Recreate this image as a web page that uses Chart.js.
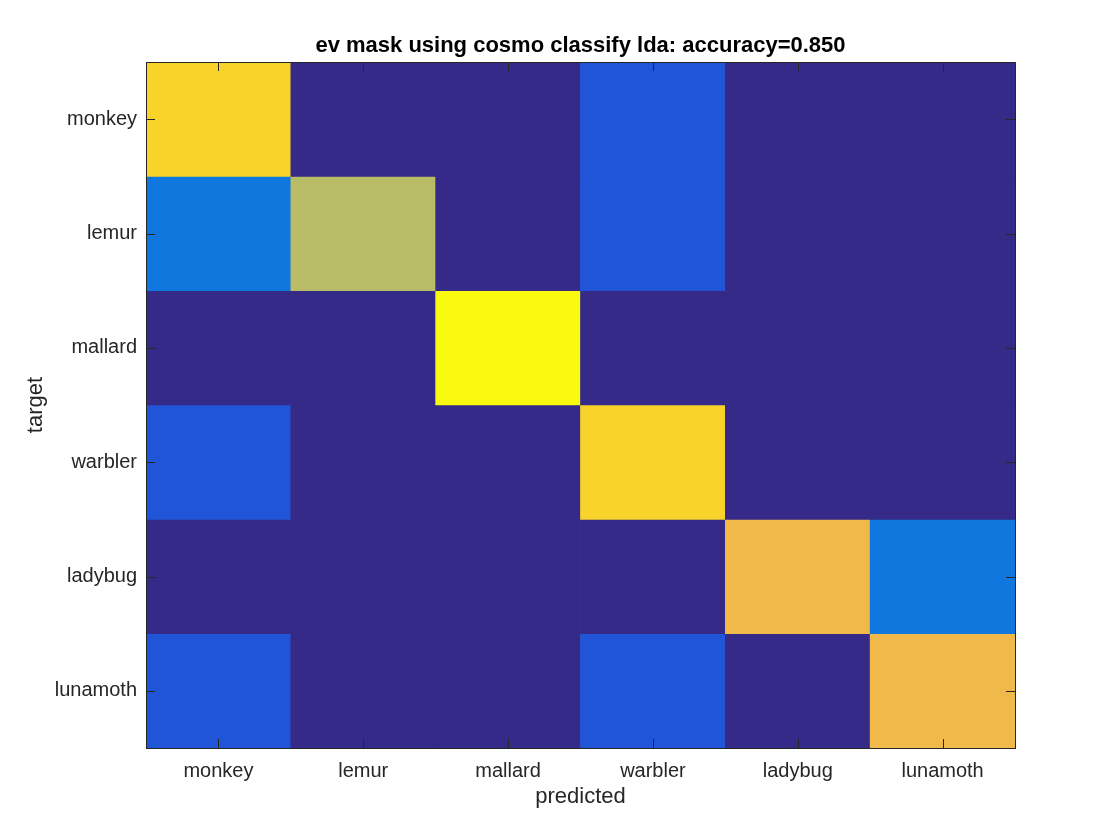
<!DOCTYPE html>
<html>
<head>
<meta charset="utf-8">
<script src="https://cdn.jsdelivr.net/npm/chart.js@4/dist/chart.umd.min.js"></script>
<style>
  html, body { margin: 0; padding: 0; background: #fff; }
  #wrap { width: 1120px; height: 840px; }
</style>
</head>
<body>
<div id="wrap"><canvas id="cm"></canvas></div>
<script>
var predicted = ['monkey', 'lemur', 'mallard', 'warbler', 'ladybug', 'lunamoth'];
var targets = ['monkey', 'lemur', 'mallard', 'warbler', 'ladybug', 'lunamoth'];

// counts per target row, columns in predicted order
var rowMonkey   = [9, 0, 0, 1, 0, 0];
var rowLemur    = [2, 7, 0, 1, 0, 0];
var rowMallard  = [0, 0, 10, 0, 0, 0];
var rowWarbler  = [1, 0, 0, 9, 0, 0];
var rowLadybug  = [0, 0, 0, 0, 8, 2];
var rowLunamoth = [1, 0, 0, 1, 0, 8];
var rows = [rowMonkey, rowLemur, rowMallard, rowWarbler, rowLadybug, rowLunamoth];

var maxCount = 10;
// parula, sampled at count/maxCount = 0, 0.1, ... 1
var parula = ['#352a87', '#1f55d6', '#0f77de', '#1388d3', '#07a6c5', '#38b99e',
              '#92bf73', '#b8bc66', '#f1b94a', '#f8d42a', '#f9fa0f'];

function colorFor(v) {
  return parula[Math.round(v / maxCount * (parula.length - 1))];
}

var datasets = rows.map(function (row, i) {
  return {
    label: targets[i],
    data: row.map(function () { return 1; }),
    counts: row,
    backgroundColor: row.map(colorFor),
    borderWidth: 0,
    barPercentage: 1,
    categoryPercentage: 1
  };
});

var axisColor = '#262626';
var family = '"Liberation Sans", Arial, sans-serif';
var tickFont = { family: family, size: 20 };
var labelFont = { family: family, size: 22 };

var frame = {
  id: 'frame',
  afterDraw: function (chart) {
    var ctx = chart.ctx, a = chart.chartArea;
    var xs = chart.scales.x, ys = chart.scales.y, len = 9;
    ctx.save();
    ctx.strokeStyle = axisColor;
    ctx.lineWidth = 1;
    ctx.beginPath();
    predicted.forEach(function (p, i) {
      var x = Math.round(xs.getPixelForValue(i)) + 0.5;
      ctx.moveTo(x, a.bottom); ctx.lineTo(x, a.bottom - len);
      ctx.moveTo(x, a.top); ctx.lineTo(x, a.top + len);
    });
    targets.forEach(function (t, i) {
      var y = Math.round(ys.getPixelForValue(i + 0.5)) + 0.5;
      ctx.moveTo(a.left, y); ctx.lineTo(a.left + len, y);
      ctx.moveTo(a.right, y); ctx.lineTo(a.right - len, y);
    });
    ctx.stroke();
    ctx.strokeRect(Math.round(a.left) + 0.5, Math.round(a.top) + 0.5,
                   Math.round(a.right - a.left), Math.round(a.bottom - a.top));
    ctx.fillStyle = '#000';
    ctx.font = 'bold 22px ' + family;
    ctx.textAlign = 'center';
    ctx.textBaseline = 'middle';
    ctx.fillText('ev mask using cosmo classify lda: accuracy=0.850', (a.left + a.right) / 2, 46);
    ctx.restore();
  }
};

new Chart(document.getElementById('cm'), {
  type: 'bar',
  data: { labels: predicted, datasets: datasets },
  plugins: [frame],
  options: {
    responsive: true,
    maintainAspectRatio: false,
    animation: false,
    layout: { padding: { left: 0, top: 62, right: 105, bottom: 0 } },
    plugins: {
      legend: { display: false },
      title: { display: false },
      tooltip: {
        callbacks: {
          label: function (c) { return c.dataset.label + ' → ' + c.label + ': ' + c.dataset.counts[c.dataIndex]; }
        }
      }
    },
    scales: {
      x: {
        stacked: true,
        grid: { display: false, drawTicks: false, tickLength: 0 },
        border: { display: false },
        ticks: { color: axisColor, font: tickFont, padding: 11, maxRotation: 0 },
        title: { display: true, text: 'predicted', color: axisColor, font: labelFont,
                 padding: { top: 0, bottom: 30 } },
        afterFit: function (s) { s.height = 92; }
      },
      y: {
        stacked: true,
        reverse: true,
        min: 0,
        max: 6,
        grid: { display: false, drawTicks: false, tickLength: 0 },
        border: { display: false },
        afterBuildTicks: function (s) {
          s.ticks = targets.map(function (t, i) { return { value: i + 0.5 }; });
        },
        ticks: {
          color: axisColor, font: tickFont, padding: 9, autoSkip: false,
          callback: function (v) { return targets[Math.floor(v)]; }
        },
        title: { display: true, text: 'target', color: axisColor, font: labelFont,
                 padding: { top: 23, bottom: 0 } },
        afterFit: function (s) { s.width = 146; }
      }
    }
  }
});
</script>
</body>
</html>
